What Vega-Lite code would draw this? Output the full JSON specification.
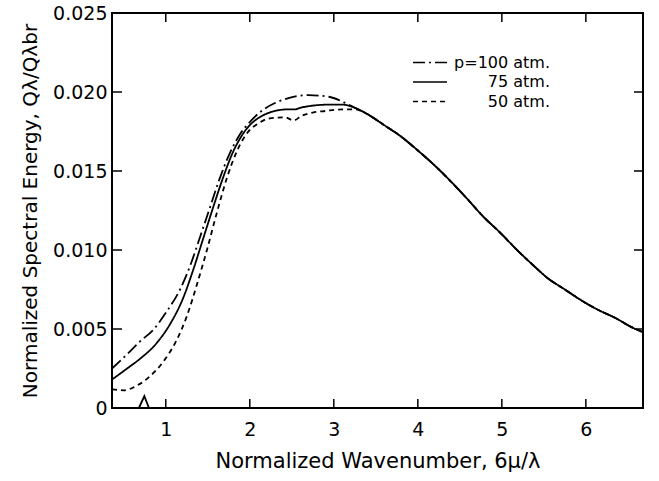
{
  "$schema": "https://vega.github.io/schema/vega-lite/v6.json",
  "autosize": {"type": "none"},
  "padding": {"left": 112, "top": 13, "right": 16, "bottom": 73},
  "width": 531,
  "height": 395,
  "background": "white",
  "config": {
    "view": {"stroke": "black", "strokeWidth": 2},
    "font": "DejaVu Sans",
    "axis": {"labelColor": "black", "titleColor": "black", "grid": false, "domain": false, "ticks": false, "labelFont": "DejaVu Sans", "titleFont": "DejaVu Sans", "titleFontWeight": "normal"}
  },
  "datasets": {
    "curves": [
      {"x": 0.36, "y": 0.0025, "series": "p=100 atm."},
      {"x": 0.54, "y": 0.0034, "series": "p=100 atm."},
      {"x": 0.69, "y": 0.0042, "series": "p=100 atm."},
      {"x": 0.86, "y": 0.0050, "series": "p=100 atm."},
      {"x": 1.01, "y": 0.0061, "series": "p=100 atm."},
      {"x": 1.17, "y": 0.0075, "series": "p=100 atm."},
      {"x": 1.29, "y": 0.0090, "series": "p=100 atm."},
      {"x": 1.40, "y": 0.0107, "series": "p=100 atm."},
      {"x": 1.52, "y": 0.0126, "series": "p=100 atm."},
      {"x": 1.64, "y": 0.0145, "series": "p=100 atm."},
      {"x": 1.76, "y": 0.0161, "series": "p=100 atm."},
      {"x": 1.88, "y": 0.0173, "series": "p=100 atm."},
      {"x": 2.00, "y": 0.0181, "series": "p=100 atm."},
      {"x": 2.14, "y": 0.0188, "series": "p=100 atm."},
      {"x": 2.30, "y": 0.0193, "series": "p=100 atm."},
      {"x": 2.45, "y": 0.0196, "series": "p=100 atm."},
      {"x": 2.70, "y": 0.0198, "series": "p=100 atm."},
      {"x": 2.94, "y": 0.0197, "series": "p=100 atm."},
      {"x": 3.10, "y": 0.0194, "series": "p=100 atm."},
      {"x": 3.25, "y": 0.0190, "series": "p=100 atm."},
      {"x": 3.40, "y": 0.0186, "series": "p=100 atm."},
      {"x": 3.60, "y": 0.0179, "series": "p=100 atm."},
      {"x": 3.77, "y": 0.0173, "series": "p=100 atm."},
      {"x": 4.00, "y": 0.0163, "series": "p=100 atm."},
      {"x": 4.17, "y": 0.0155, "series": "p=100 atm."},
      {"x": 4.40, "y": 0.0143, "series": "p=100 atm."},
      {"x": 4.56, "y": 0.0134, "series": "p=100 atm."},
      {"x": 4.80, "y": 0.0120, "series": "p=100 atm."},
      {"x": 4.96, "y": 0.0112, "series": "p=100 atm."},
      {"x": 5.20, "y": 0.0099, "series": "p=100 atm."},
      {"x": 5.36, "y": 0.0091, "series": "p=100 atm."},
      {"x": 5.55, "y": 0.0082, "series": "p=100 atm."},
      {"x": 5.75, "y": 0.0075, "series": "p=100 atm."},
      {"x": 5.95, "y": 0.0068, "series": "p=100 atm."},
      {"x": 6.15, "y": 0.0062, "series": "p=100 atm."},
      {"x": 6.35, "y": 0.0057, "series": "p=100 atm."},
      {"x": 6.55, "y": 0.0051, "series": "p=100 atm."},
      {"x": 6.68, "y": 0.0048, "series": "p=100 atm."},

      {"x": 0.36, "y": 0.0018, "series": "75 atm."},
      {"x": 0.54, "y": 0.0025, "series": "75 atm."},
      {"x": 0.69, "y": 0.0031, "series": "75 atm."},
      {"x": 0.89, "y": 0.0041, "series": "75 atm."},
      {"x": 1.05, "y": 0.0053, "series": "75 atm."},
      {"x": 1.21, "y": 0.0070, "series": "75 atm."},
      {"x": 1.33, "y": 0.0088, "series": "75 atm."},
      {"x": 1.45, "y": 0.0108, "series": "75 atm."},
      {"x": 1.57, "y": 0.0128, "series": "75 atm."},
      {"x": 1.69, "y": 0.0147, "series": "75 atm."},
      {"x": 1.80, "y": 0.0162, "series": "75 atm."},
      {"x": 1.90, "y": 0.0172, "series": "75 atm."},
      {"x": 2.00, "y": 0.0179, "series": "75 atm."},
      {"x": 2.15, "y": 0.0185, "series": "75 atm."},
      {"x": 2.30, "y": 0.0188, "series": "75 atm."},
      {"x": 2.45, "y": 0.0189, "series": "75 atm."},
      {"x": 2.54, "y": 0.0189, "series": "75 atm."},
      {"x": 2.60, "y": 0.0190, "series": "75 atm."},
      {"x": 2.70, "y": 0.0191, "series": "75 atm."},
      {"x": 2.94, "y": 0.0192, "series": "75 atm."},
      {"x": 3.10, "y": 0.0192, "series": "75 atm."},
      {"x": 3.25, "y": 0.0190, "series": "75 atm."},
      {"x": 3.40, "y": 0.0186, "series": "75 atm."},
      {"x": 3.60, "y": 0.0179, "series": "75 atm."},
      {"x": 3.77, "y": 0.0173, "series": "75 atm."},
      {"x": 4.00, "y": 0.0163, "series": "75 atm."},
      {"x": 4.17, "y": 0.0155, "series": "75 atm."},
      {"x": 4.40, "y": 0.0143, "series": "75 atm."},
      {"x": 4.56, "y": 0.0134, "series": "75 atm."},
      {"x": 4.80, "y": 0.0120, "series": "75 atm."},
      {"x": 4.96, "y": 0.0112, "series": "75 atm."},
      {"x": 5.20, "y": 0.0099, "series": "75 atm."},
      {"x": 5.36, "y": 0.0091, "series": "75 atm."},
      {"x": 5.55, "y": 0.0082, "series": "75 atm."},
      {"x": 5.75, "y": 0.0075, "series": "75 atm."},
      {"x": 5.95, "y": 0.0068, "series": "75 atm."},
      {"x": 6.15, "y": 0.0062, "series": "75 atm."},
      {"x": 6.35, "y": 0.0057, "series": "75 atm."},
      {"x": 6.55, "y": 0.0051, "series": "75 atm."},
      {"x": 6.68, "y": 0.0048, "series": "75 atm."},

      {"x": 0.36, "y": 0.0012, "series": "50 atm."},
      {"x": 0.50, "y": 0.00112, "series": "50 atm."},
      {"x": 0.65, "y": 0.0014, "series": "50 atm."},
      {"x": 0.81, "y": 0.0020, "series": "50 atm."},
      {"x": 0.98, "y": 0.0030, "series": "50 atm."},
      {"x": 1.13, "y": 0.0043, "series": "50 atm."},
      {"x": 1.25, "y": 0.0058, "series": "50 atm."},
      {"x": 1.37, "y": 0.0078, "series": "50 atm."},
      {"x": 1.49, "y": 0.0100, "series": "50 atm."},
      {"x": 1.61, "y": 0.0124, "series": "50 atm."},
      {"x": 1.73, "y": 0.0146, "series": "50 atm."},
      {"x": 1.85, "y": 0.0163, "series": "50 atm."},
      {"x": 2.00, "y": 0.0176, "series": "50 atm."},
      {"x": 2.10, "y": 0.0180, "series": "50 atm."},
      {"x": 2.21, "y": 0.0183, "series": "50 atm."},
      {"x": 2.42, "y": 0.0184, "series": "50 atm."},
      {"x": 2.52, "y": 0.0182, "series": "50 atm."},
      {"x": 2.62, "y": 0.0185, "series": "50 atm."},
      {"x": 2.75, "y": 0.0187, "series": "50 atm."},
      {"x": 2.90, "y": 0.0188, "series": "50 atm."},
      {"x": 3.10, "y": 0.0189, "series": "50 atm."},
      {"x": 3.25, "y": 0.0189, "series": "50 atm."},
      {"x": 3.40, "y": 0.0186, "series": "50 atm."},
      {"x": 3.60, "y": 0.0179, "series": "50 atm."},
      {"x": 3.77, "y": 0.0173, "series": "50 atm."},
      {"x": 4.00, "y": 0.0163, "series": "50 atm."},
      {"x": 4.17, "y": 0.0155, "series": "50 atm."},
      {"x": 4.40, "y": 0.0143, "series": "50 atm."},
      {"x": 4.56, "y": 0.0134, "series": "50 atm."},
      {"x": 4.80, "y": 0.0120, "series": "50 atm."},
      {"x": 4.96, "y": 0.0112, "series": "50 atm."},
      {"x": 5.20, "y": 0.0099, "series": "50 atm."},
      {"x": 5.36, "y": 0.0091, "series": "50 atm."},
      {"x": 5.55, "y": 0.0082, "series": "50 atm."},
      {"x": 5.75, "y": 0.0075, "series": "50 atm."},
      {"x": 5.95, "y": 0.0068, "series": "50 atm."},
      {"x": 6.15, "y": 0.0062, "series": "50 atm."},
      {"x": 6.35, "y": 0.0057, "series": "50 atm."},
      {"x": 6.55, "y": 0.0051, "series": "50 atm."},
      {"x": 6.68, "y": 0.0048, "series": "50 atm."}
    ],
    "bump": [
      {"x": 0.68, "y": 0.0},
      {"x": 0.745, "y": 0.00075},
      {"x": 0.80, "y": 0.0}
    ],
    "xticks": [{"x": 1}, {"x": 2}, {"x": 3}, {"x": 4}, {"x": 5}, {"x": 6}],
    "yticks": [{"y": 0.005}, {"y": 0.01}, {"y": 0.015}, {"y": 0.02}]
  },
  "layer": [
    {
      "data": {"name": "curves"},
      "mark": {"type": "line", "color": "black", "strokeWidth": 1.8, "interpolate": "monotone"},
      "encoding": {
        "x": {
          "field": "x", "type": "quantitative",
          "scale": {"domain": [0.36, 6.68], "nice": false, "zero": false},
          "axis": {"orient": "bottom", "values": [1, 2, 3, 4, 5, 6], "format": "d", "labelPadding": 12, "labelFontSize": 19, "title": "Normalized Wavenumber,  6μ/λ", "titleFontSize": 21, "titlePadding": 11}
        },
        "y": {
          "field": "y", "type": "quantitative",
          "scale": {"domain": [0, 0.025], "nice": false, "zero": true},
          "axis": {"orient": "left", "values": [0, 0.005, 0.01, 0.015, 0.02, 0.025], "labelExpr": "datum.value == 0 ? '0' : format(datum.value, '.3f')", "labelPadding": 5, "labelFontSize": 19, "title": "Normalized Spectral Energy,  Qλ/Qλbr", "titleFontSize": 20, "titlePadding": 12}
        },
        "strokeDash": {
          "field": "series", "type": "nominal",
          "scale": {"domain": ["p=100 atm.", "75 atm.", "50 atm."], "range": [[12, 4, 2, 4], [1, 0], [5, 4]]},
          "legend": {
            "orient": "none", "legendX": 300, "legendY": 40, "title": null,
            "symbolType": "stroke", "symbolSize": 1156, "symbolStrokeColor": "black", "symbolStrokeWidth": 1.5,
            "clipHeight": 19, "rowPadding": 0.5,
            "labelFontSize": 16, "labelColor": "black", "labelFont": "DejaVu Sans", "labelAlign": "right", "labelOffset": 102, "labelLimit": 200
          }
        }
      }
    },
    {
      "data": {"name": "bump"},
      "mark": {"type": "line", "color": "black", "strokeWidth": 1.8},
      "encoding": {
        "x": {"field": "x", "type": "quantitative"},
        "y": {"field": "y", "type": "quantitative"}
      }
    },
    {
      "data": {"name": "xticks"},
      "mark": {"type": "point", "shape": "M0,0V-2", "filled": false, "stroke": "black", "strokeWidth": 1.5, "opacity": 1, "size": 81},
      "encoding": {
        "x": {"field": "x", "type": "quantitative"},
        "y": {"datum": 0, "type": "quantitative"}
      }
    },
    {
      "data": {"name": "xticks"},
      "mark": {"type": "point", "shape": "M0,0V2", "filled": false, "stroke": "black", "strokeWidth": 1.5, "opacity": 1, "size": 81},
      "encoding": {
        "x": {"field": "x", "type": "quantitative"},
        "y": {"datum": 0.025, "type": "quantitative"}
      }
    },
    {
      "data": {"name": "yticks"},
      "mark": {"type": "point", "shape": "M0,0H2", "filled": false, "stroke": "black", "strokeWidth": 1.5, "opacity": 1, "size": 100},
      "encoding": {
        "y": {"field": "y", "type": "quantitative"},
        "x": {"datum": 0.36, "type": "quantitative"}
      }
    },
    {
      "data": {"name": "yticks"},
      "mark": {"type": "point", "shape": "M0,0H-2", "filled": false, "stroke": "black", "strokeWidth": 1.5, "opacity": 1, "size": 81},
      "encoding": {
        "y": {"field": "y", "type": "quantitative"},
        "x": {"datum": 6.68, "type": "quantitative"}
      }
    }
  ]
}
